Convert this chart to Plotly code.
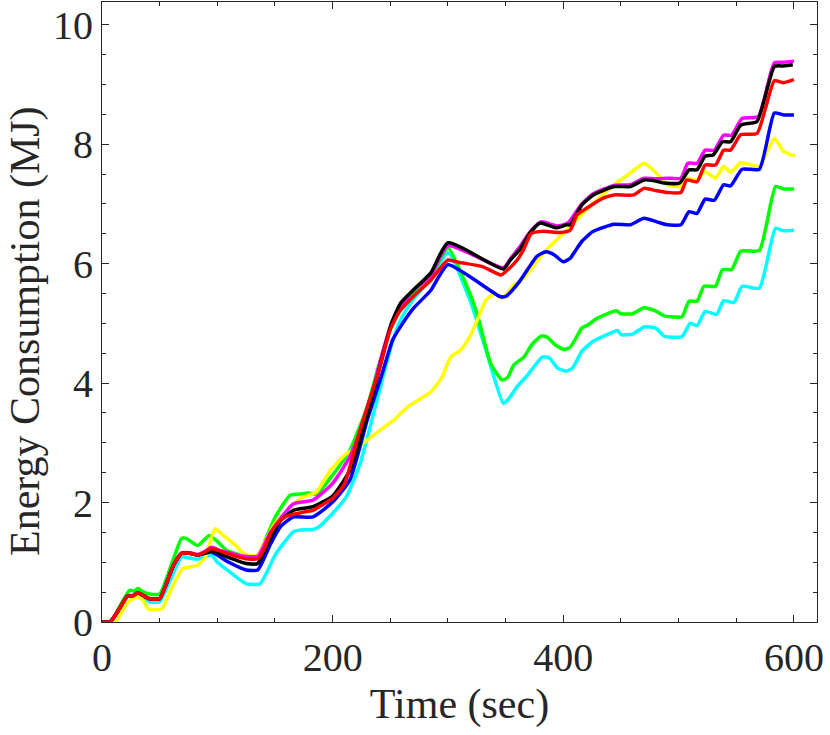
import plotly.graph_objects as go

# ---- data (time in sec, energy in MJ) ----
t_green = [0, 8, 15, 24, 28, 31, 36, 41, 50, 60, 69, 73, 83, 93, 100, 108, 120, 135, 140, 150, 163, 170, 180, 186, 200, 215, 230, 240, 250, 258, 270, 285, 300, 320, 326, 337, 347, 352, 357, 366, 373, 381, 386, 393, 401, 406, 411, 416, 422, 428, 438, 446, 450, 460, 470, 480, 487, 493, 503, 509, 516, 522, 532, 538, 546, 554, 570, 584, 591, 600]
e_green = [0, 0, 0.25, 0.53, 0.52, 0.56, 0.5, 0.47, 0.47, 0.95, 1.40, 1.40, 1.28, 1.45, 1.35, 1.2, 1.12, 1.09, 1.3, 1.75, 2.12, 2.14, 2.16, 2.14, 2.46, 2.88, 3.6, 4.3, 4.9, 5.2, 5.48, 5.78, 6.26, 5.45, 5.11, 4.33, 4.05, 4.1, 4.30, 4.44, 4.65, 4.79, 4.77, 4.64, 4.56, 4.60, 4.75, 4.92, 4.98, 5.07, 5.16, 5.21, 5.16, 5.16, 5.26, 5.21, 5.13, 5.11, 5.11, 5.37, 5.37, 5.62, 5.62, 5.90, 5.90, 6.21, 6.22, 7.29, 7.25, 7.25]

t_cyan = [0, 8, 22, 31, 41, 50, 69, 76, 83, 95, 100, 110, 125, 137, 151, 166, 172, 183, 188, 200, 212, 224, 234, 245, 252, 260, 270, 285, 300, 320, 333, 348, 352, 360, 368, 382, 388, 395, 402, 408, 416, 426, 438, 447, 450, 460, 470, 480, 488, 503, 510, 516, 523, 533, 539, 548, 555, 570, 584, 591, 600]
e_cyan = [0, 0, 0.43, 0.45, 0.34, 0.34, 1.09, 1.07, 1.05, 1.12, 1.0, 0.85, 0.64, 0.64, 1.15, 1.51, 1.54, 1.55, 1.59, 1.82, 2.10, 2.66, 3.38, 4.2, 4.7, 5.1, 5.4, 5.75, 6.18, 5.34, 4.55, 3.66, 3.72, 3.94, 4.11, 4.44, 4.42, 4.25, 4.20, 4.25, 4.53, 4.70, 4.81, 4.88, 4.81, 4.82, 4.94, 4.92, 4.78, 4.78, 5.0, 4.96, 5.2, 5.15, 5.38, 5.35, 5.62, 5.59, 6.59, 6.55, 6.56]

t_yellow = [0, 12, 18, 24, 31, 36, 40, 52, 60, 70, 83, 90, 98, 105, 115, 125, 135, 140, 150, 160, 172, 186, 198, 212, 220, 227, 241, 253, 265, 285, 295, 300, 303, 311, 319, 326, 333, 341, 347, 357, 366, 383, 397, 406, 420, 444, 457, 470, 481, 490, 502, 507, 516, 523, 532, 539, 545, 554, 570, 583, 590, 597, 601]
e_yellow = [0, 0, 0.2, 0.36, 0.42, 0.35, 0.22, 0.22, 0.55, 0.89, 0.95, 1.1, 1.56, 1.45, 1.3, 1.12, 1.12, 1.3, 1.65, 1.85, 2.07, 2.18, 2.54, 2.82, 2.9, 3.0, 3.21, 3.38, 3.6, 3.85, 4.1, 4.35, 4.45, 4.55, 4.78, 5.08, 5.39, 5.5, 5.42, 5.64, 5.76, 6.18, 6.45, 6.62, 6.9, 7.32, 7.5, 7.68, 7.51, 7.32, 7.29, 7.43, 7.40, 7.54, 7.43, 7.63, 7.53, 7.69, 7.63, 8.10, 7.9, 7.82, 7.81]

t_blue = [0, 7, 15, 22, 27, 31, 36, 41, 50, 55, 62, 69, 76, 83, 89, 95, 110, 125, 135, 146, 155, 166, 183, 200, 215, 230, 242, 252, 259, 270, 285, 300, 345, 350, 362, 377, 385, 392, 400, 406, 410, 416, 426, 444, 458, 470, 481, 490, 502, 509, 516, 523, 531, 539, 545, 555, 570, 583, 591, 600]
e_blue = [0, 0, 0.22, 0.43, 0.44, 0.49, 0.44, 0.39, 0.39, 0.6, 0.95, 1.15, 1.15, 1.12, 1.15, 1.17, 1.0, 0.87, 0.87, 1.3, 1.6, 1.76, 1.76, 2.01, 2.38, 3.38, 4.1, 4.72, 4.95, 5.25, 5.55, 5.98, 5.45, 5.45, 5.70, 6.12, 6.2, 6.15, 6.03, 6.09, 6.2, 6.37, 6.54, 6.66, 6.65, 6.76, 6.70, 6.65, 6.65, 6.87, 6.84, 7.08, 7.06, 7.32, 7.30, 7.58, 7.58, 8.52, 8.49, 8.49]

t_magenta = [0, 7, 15, 22, 27, 31, 36, 41, 50, 55, 62, 69, 76, 83, 89, 95, 102, 110, 118, 125, 135, 146, 166, 183, 200, 215, 230, 241, 251, 260, 270, 285, 300, 348, 355, 363, 372, 381, 395, 404, 416, 426, 444, 458, 470, 480, 490, 502, 508, 516, 523, 531, 539, 546, 555, 569, 583, 591, 600]
e_magenta = [0, 0, 0.22, 0.43, 0.44, 0.49, 0.44, 0.39, 0.39, 0.6, 0.95, 1.15, 1.16, 1.13, 1.18, 1.25, 1.2, 1.16, 1.12, 1.1, 1.1, 1.5, 1.98, 2.04, 2.32, 2.77, 3.5, 4.35, 5.0, 5.3, 5.55, 5.8, 6.3, 5.93, 6.1, 6.3, 6.55, 6.7, 6.63, 6.68, 7.0, 7.17, 7.31, 7.32, 7.43, 7.42, 7.43, 7.43, 7.68, 7.68, 7.9, 7.9, 8.15, 8.15, 8.43, 8.46, 9.36, 9.37, 9.39]

t_black = [0, 7, 15, 22, 27, 31, 36, 41, 50, 55, 62, 69, 76, 83, 89, 95, 110, 125, 135, 146, 155, 166, 183, 200, 215, 229, 241, 251, 259, 270, 285, 300, 348, 354, 362, 371, 380, 394, 403, 406, 416, 426, 444, 458, 470, 478, 487, 501, 509, 516, 523, 530, 538, 545, 554, 568, 583, 591, 599]
e_black = [0, 0, 0.22, 0.43, 0.44, 0.49, 0.44, 0.39, 0.39, 0.6, 0.95, 1.15, 1.15, 1.12, 1.15, 1.19, 1.08, 0.98, 0.98, 1.4, 1.7, 1.87, 1.93, 2.11, 2.54, 3.38, 4.28, 5.0, 5.34, 5.56, 5.84, 6.35, 5.91, 6.06, 6.23, 6.51, 6.68, 6.6, 6.65, 6.65, 6.98, 7.15, 7.29, 7.29, 7.40, 7.39, 7.35, 7.35, 7.57, 7.57, 7.80, 7.82, 8.04, 8.04, 8.32, 8.38, 9.30, 9.31, 9.33]

t_red = [0, 7, 15, 22, 27, 31, 36, 41, 50, 55, 62, 69, 76, 83, 89, 95, 102, 110, 118, 125, 135, 140, 146, 152, 158, 163, 170, 177, 183, 190, 200, 210, 215, 222, 230, 240, 250, 258, 270, 285, 300, 310, 330, 346, 352, 360, 366, 372, 383, 397, 406, 412, 418, 426, 435, 444, 461, 470, 481, 490, 502, 507, 516, 523, 532, 539, 545, 554, 568, 583, 591, 600]
e_red = [0, 0, 0.22, 0.43, 0.44, 0.49, 0.44, 0.39, 0.39, 0.6, 0.95, 1.15, 1.15, 1.12, 1.17, 1.23, 1.19, 1.14, 1.09, 1.06, 1.06, 1.2, 1.48, 1.65, 1.75, 1.79, 1.82, 1.85, 1.87, 1.95, 2.07, 2.3, 2.6, 3.1, 3.6, 4.2, 4.9, 5.2, 5.45, 5.72, 6.06, 6.02, 5.95, 5.81, 5.9, 6.06, 6.25, 6.5, 6.54, 6.52, 6.56, 6.82, 6.9, 7.0, 7.1, 7.15, 7.15, 7.26, 7.22, 7.19, 7.19, 7.4, 7.37, 7.65, 7.65, 7.9, 7.9, 8.16, 8.18, 9.06, 9.03, 9.08]

x_ticks = [0, 200, 400, 600]
y_ticks = [0, 2, 4, 6, 8, 10]

series = [
    (t_cyan, e_cyan, "#00FFFF"),
    (t_green, e_green, "#00FF00"),
    (t_yellow, e_yellow, "#FFFF00"),
    (t_blue, e_blue, "#0000FF"),
    (t_magenta, e_magenta, "#FF00FF"),
    (t_black, e_black, "#000000"),
    (t_red, e_red, "#FF0000"),
]

fig = go.Figure()
for t, e, c in series:
    fig.add_trace(go.Scatter(x=t, y=e, mode="lines",
                             line=dict(color=c, width=3.5, shape="spline", smoothing=0.5),
                             showlegend=False, hoverinfo="skip"))

serif = "Liberation Serif, Times New Roman, serif"
axis_font = dict(family=serif, size=40, color="#262626")
common = dict(showline=True, linecolor="#262626", linewidth=1, mirror="ticks",
              ticks="inside", ticklen=7, tickwidth=1, tickcolor="#262626",
              showgrid=False, zeroline=False, tickfont=axis_font, automargin=False)

fig.update_layout(
    width=830, height=735,
    margin=dict(l=102, r=13, t=2, b=113),
    paper_bgcolor="white", plot_bgcolor="white",
    xaxis=dict(range=[0, 620], tickvals=x_ticks, ticktext=[str(v) for v in x_ticks],
               minor=dict(dtick=50, ticks="inside", ticklen=4, tickcolor="#262626"),
               title=dict(text="Time (sec)", font=dict(family=serif, size=42, color="#262626"), standoff=9),
               ticklabelstandoff=0,
               **common),
    yaxis=dict(range=[0, 10.38], tickvals=y_ticks, ticktext=[str(v) for v in y_ticks],
               minor=dict(dtick=0.5, ticks="inside", ticklen=4, tickcolor="#262626"),
               ticklabelstandoff=0,
               **common),
    annotations=[dict(text="Energy Consumption (MJ)", textangle=-90,
                      xref="paper", yref="paper", x=-0.108, y=0.469,
                      xanchor="center", yanchor="middle", showarrow=False,
                      font=dict(family=serif, size=42, color="#262626"))],
)

fig.write_html("out.html", config={"displayModeBar": False},
               post_script="document.body.style.margin='0';")
